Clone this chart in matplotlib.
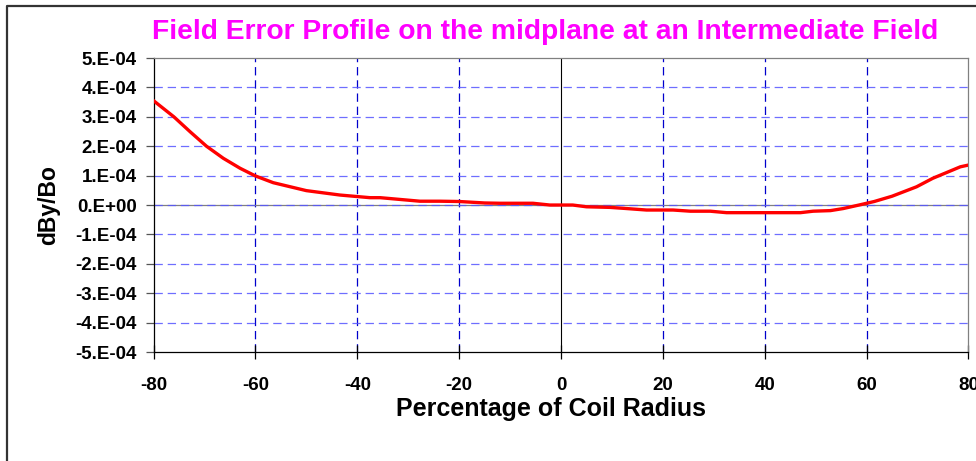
import matplotlib.pyplot as plt
from matplotlib.lines import Line2D

plt.rcParams['font.family'] = ['Liberation Sans', 'DejaVu Sans']
plt.rcParams['font.weight'] = 'bold'
plt.rcParams['lines.scale_dashes'] = False

# field error profile, percentage of coil radius vs dBy/Bo
radius = [-80, -76, -72.8, -69.6, -66.3, -63, -60, -56.5, -50, -43.4, -37.5, -35.5,
          -31.6, -27.7, -23.8, -20, -15, -12, -5.5, -2.2, 2.3, 5, 9.6, 12.9, 16.8,
          22, 25.4, 29.3, 32.5, 39.7, 47, 49.5, 52.9, 55.4, 58.5, 61.5, 65, 69.8,
          73, 78.4, 80]
dby_bo = [3.55e-4, 3.0e-4, 2.49e-4, 2.0e-4, 1.59e-4, 1.25e-4, 0.99e-4, 0.76e-4,
          0.49e-4, 0.34e-4, 0.25e-4, 0.25e-4, 0.19e-4, 0.13e-4, 0.13e-4, 0.12e-4,
          0.07e-4, 0.06e-4, 0.06e-4, 0.0, 0.0, -0.06e-4, -0.08e-4, -0.12e-4,
          -0.17e-4, -0.17e-4, -0.21e-4, -0.21e-4, -0.26e-4, -0.26e-4, -0.26e-4,
          -0.21e-4, -0.19e-4, -0.12e-4, 0.0, 0.12e-4, 0.3e-4, 0.62e-4, 0.91e-4,
          1.3e-4, 1.36e-4]

xticks = [-80, -60, -40, -20, 0, 20, 40, 60, 80]
yticks = [i * 1e-4 for i in range(-5, 6)]
ytick_labels = ['-5.E-04', '-4.E-04', '-3.E-04', '-2.E-04', '-1.E-04', '0.E+00',
                '1.E-04', '2.E-04', '3.E-04', '4.E-04', '5.E-04']

fig = plt.figure(figsize=(9.76, 4.61), dpi=100)
ax = fig.add_axes([0.1573, 0.2364, 0.8350, 0.6377])

ax.set_xlim(-80, 80)
ax.set_ylim(-5e-4, 5e-4)

# grid
for v in xticks[1:-1]:
    if v == 0:
        ax.axvline(v, color='black', lw=0.8, zorder=1)
    else:
        ax.axvline(v, color='#0000CC', lw=0.9, dashes=(6, 3.5), zorder=1)
for h in yticks[1:-1]:
    if h == 0:
        ax.axhline(h, color='#808080', lw=0.9, zorder=1)
    ax.axhline(h, color='#5555FF', lw=0.9, dashes=(6, 3.5), alpha=0.85, zorder=1)

ax.plot(radius, dby_bo, color='#FF0000', lw=2.4, zorder=3, solid_joinstyle='round')

ax.set_xticks(xticks)
ax.set_xticklabels([str(t) for t in xticks], fontsize=13.5, fontweight='bold')
ax.set_yticks(yticks)
ax.set_yticklabels(ytick_labels, fontsize=13.5, fontweight='bold')
ax.tick_params(axis='x', direction='inout', length=10, width=0.9, pad=13)
ax.tick_params(axis='y', direction='out', length=6, width=0.9, color='#555555', pad=6)

ax.spines['left'].set_color('black')
ax.spines['bottom'].set_color('black')
ax.spines['top'].set_color('#808080')
ax.spines['right'].set_color('#808080')
for s in ax.spines.values():
    s.set_linewidth(0.9)

fig.text(551.5 / 976, 1 - 409 / 461, 'Percentage of Coil Radius', fontsize=18,
         fontweight='bold', ha='center', va='center')
fig.text(49 / 976, 1 - 205 / 461, 'dBy/Bo', fontsize=16.5, fontweight='bold',
         rotation=90, ha='center', va='center')

fig.text(545 / 976, 1 - 32 / 461, 'Field Error Profile on the midplane at an Intermediate Field',
         color='#FF00FF', fontsize=20.3, fontweight='bold', ha='center', va='center')

# chart frame
fig.add_artist(Line2D([7 / 976, 7 / 976, 1], [0, 1 - 6 / 461, 1 - 6 / 461],
                      transform=fig.transFigure, color='#333333', lw=1.6))

fig.savefig('out.png', dpi=100)
